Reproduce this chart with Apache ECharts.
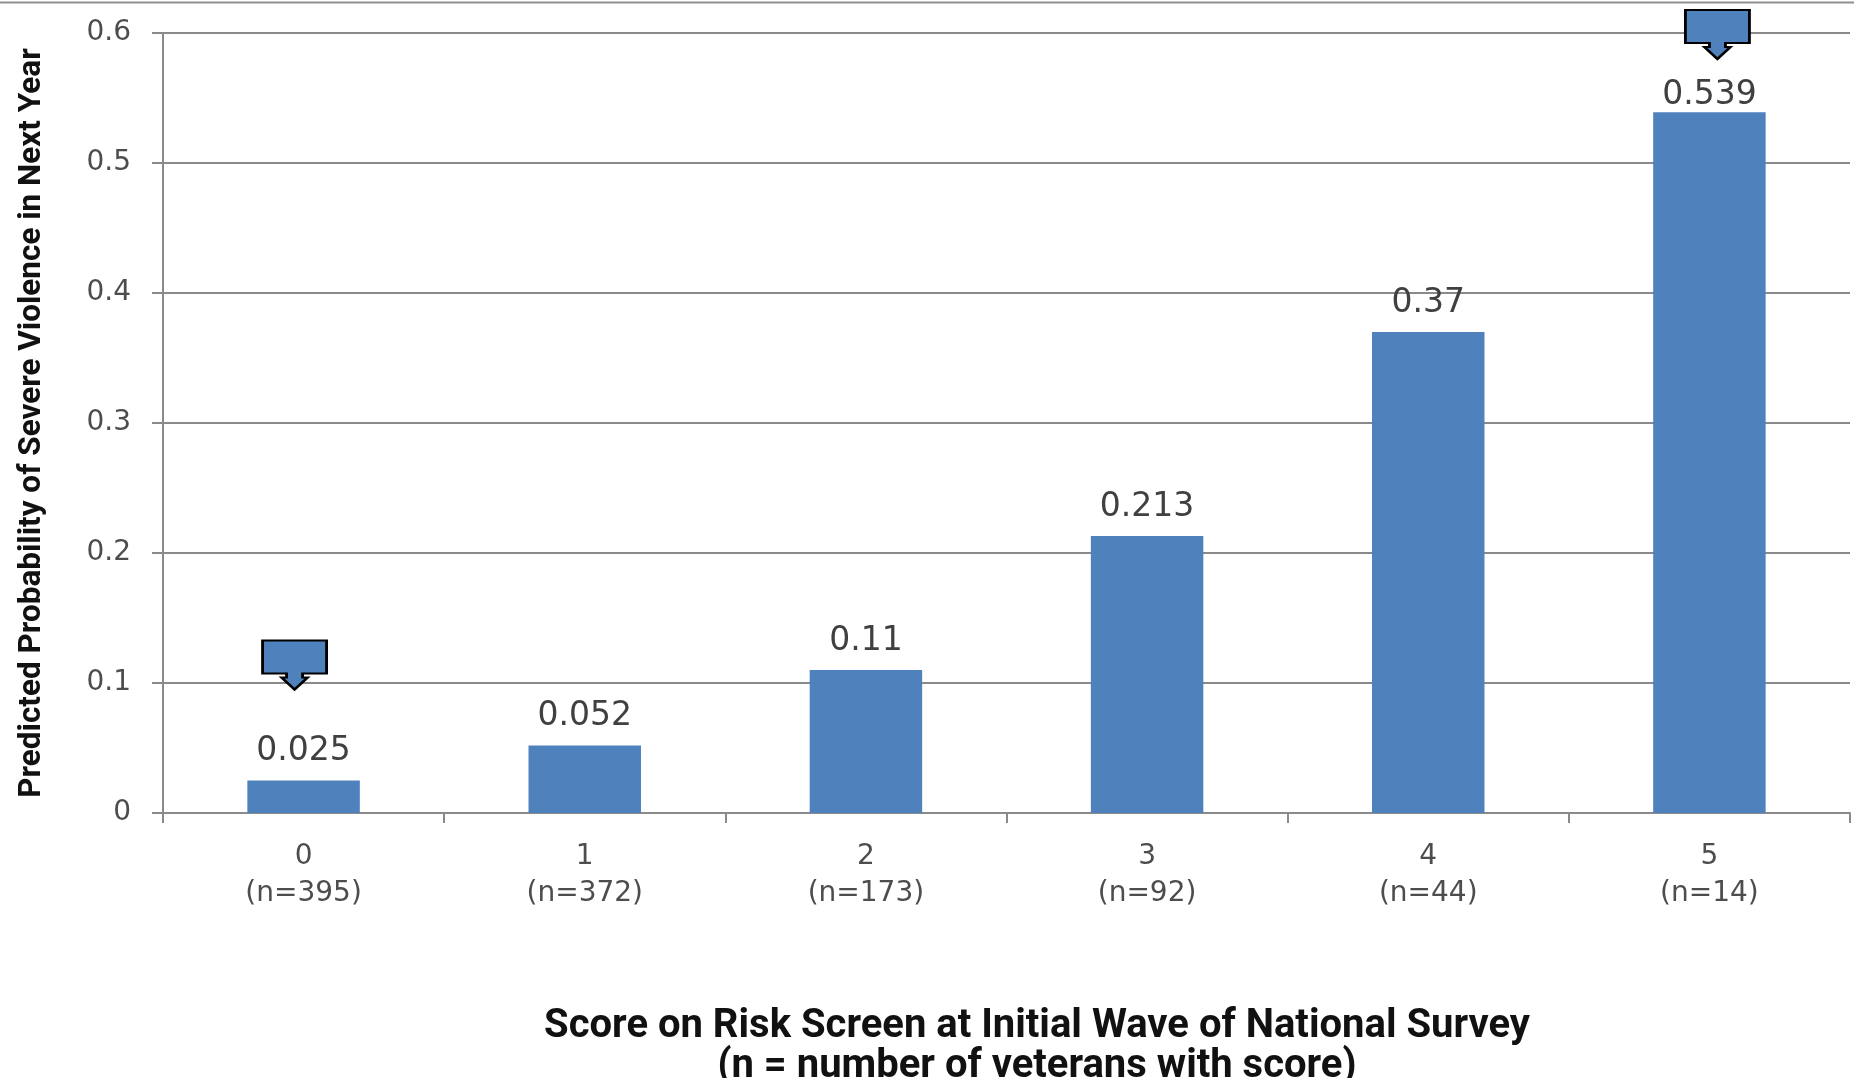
<!DOCTYPE html>
<html>
<head>
<meta charset="utf-8">
<script src="https://cdn.jsdelivr.net/npm/echarts@6/dist/echarts.min.js"></script>
<style>
html,body{margin:0;padding:0;background:#fff;}
#chart{width:1854px;height:1078px;}
</style>
</head>
<body>
<div id="chart"></div>
<script>
// ---- data ----
const scores = ['0', '1', '2', '3', '4', '5'];
const nCounts = [395, 372, 173, 92, 44, 14];
const probabilities = [0.025, 0.052, 0.11, 0.213, 0.37, 0.539];
const labelText = ['0.025', '0.052', '0.11', '0.213', '0.37', '0.539'];
const yTicks = [0, 0.1, 0.2, 0.3, 0.4, 0.5, 0.6];
// callout arrows: [category index, value at arrow tip]
const callouts = [[0, 0.095], [5, 0.58]];

const yTitle = 'Predicted Probability of Severe Violence in Next Year';
const xTitle = 'Score on Risk Screen at Initial Wave of National Survey\n(n = number of veterans with score)';

const calloutPath = 'path://M0 0 H64 V33 H40 V37 H45 L32 49 L19 37 H24 V33 H0 Z';

const chart = echarts.init(document.getElementById('chart'), null, {renderer: 'canvas'});
chart.setOption({
  backgroundColor: '#fff',
  animation: false,
  title: {
    text: xTitle,
    left: 1032,
    top: 1002,
    textAlign: 'center',
    textStyle: {
      fontFamily: "'Roboto', sans-serif",
      fontWeight: 'bold',
      fontSize: 40,
      lineHeight: 40,
      color: '#111'
    }
  },
  graphic: [{
    type: 'line',
    shape: {x1: 0, y1: 2.5, x2: 1854, y2: 2.5},
    style: {stroke: '#8f8f8f', lineWidth: 2}
  }],
  grid: {left: 163, right: 4, top: 33, bottom: 265, containLabel: false, outerBoundsMode: 'none'},
  xAxis: {
    type: 'category',
    data: scores,
    boundaryGap: true,
    axisLine: {lineStyle: {color: '#8a8a8a', width: 2}},
    axisTick: {show: true, length: 10, lineStyle: {color: '#8a8a8a', width: 2}},
    axisLabel: {
      margin: 25,
      color: '#4d4d4d',
      fontFamily: "'DejaVu Sans', sans-serif",
      fontSize: 28,
      lineHeight: 37,
      formatter: (v, i) => v + '\n(n=' + nCounts[i] + ')'
    }
  },
  yAxis: {
    type: 'value',
    min: yTicks[0],
    max: yTicks[yTicks.length - 1],
    interval: 0.1,
    name: yTitle,
    nameLocation: 'middle',
    nameGap: 115,
    nameTextStyle: {
      fontFamily: "'Roboto', sans-serif",
      fontWeight: 'bold',
      fontSize: 31.5,
      color: '#111'
    },
    axisLine: {show: true, lineStyle: {color: '#8a8a8a', width: 2}},
    axisTick: {show: true, length: 11, lineStyle: {color: '#8a8a8a', width: 2}},
    splitLine: {show: true, lineStyle: {color: '#8a8a8a', width: 2}},
    axisLabel: {
      margin: 32,
      color: '#4d4d4d',
      fontFamily: "'DejaVu Sans', sans-serif",
      fontSize: 28,
      formatter: v => String(+v.toFixed(1))
    }
  },
  series: [{
    type: 'bar',
    data: probabilities.map((v, i) => ({
      value: v,
      label: {distance: i === probabilities.length - 1 ? 0 : 12.5}
    })),
    barWidth: '40%',
    itemStyle: {color: '#4F81BD'},
    label: {
      show: true,
      position: 'top',
      color: '#404040',
      fontFamily: "'DejaVu Sans', sans-serif",
      fontSize: 33,
      lineHeight: 33,
      formatter: p => labelText[p.dataIndex]
    },
    markPoint: {
      silent: true,
      symbol: calloutPath,
      symbolSize: [64, 49],
      symbolKeepAspect: false,
      itemStyle: {color: '#4F81BD', borderColor: '#000', borderWidth: 2.5},
      label: {show: false},
      data: callouts.map((c, i) => ({
        coord: [c[0], c[1]],
        symbolOffset: [i === 0 ? -9 : 8, -24.5]
      }))
    }
  }]
});
</script>
</body>
</html>
